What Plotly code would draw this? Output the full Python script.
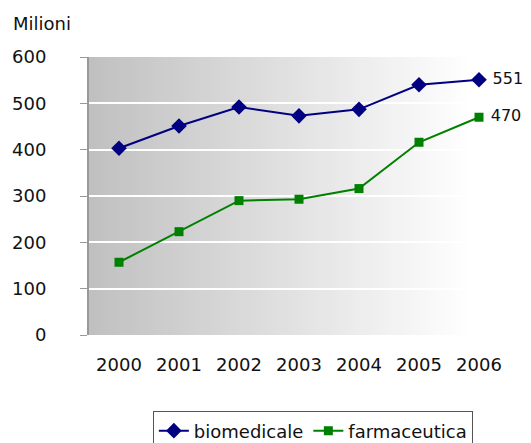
import plotly.graph_objects as go

years = ["2000", "2001", "2002", "2003", "2004", "2005", "2006"]
biomedicale = [403, 451, 492, 473, 487, 540, 551]
farmaceutica = [157, 223, 290, 293, 316, 416, 470]
y_ticks = [0, 100, 200, 300, 400, 500, 600]

FONT = "DejaVu Sans"

def last_label(vals):
    return [""] * (len(vals) - 1) + [" " + str(vals[-1])]

fig = go.Figure()
fig.add_trace(go.Scatter(
    x=years, y=biomedicale, name="biomedicale", mode="lines+markers+text",
    line=dict(color="#000080", width=2),
    marker=dict(symbol="diamond", size=12, color="#000080"),
    text=last_label(biomedicale), textposition="middle right",
    textfont=dict(family=FONT, size=16, color="#111111"),
    cliponaxis=False,
))
fig.add_trace(go.Scatter(
    x=years, y=farmaceutica, name="farmaceutica", mode="lines+markers+text",
    line=dict(color="#008000", width=2),
    marker=dict(symbol="square", size=9, color="#008000"),
    text=last_label(farmaceutica), textposition="middle right",
    textfont=dict(family=FONT, size=16, color="#111111"),
    cliponaxis=False,
))

# gradient background of plot area (grey -> white)
shapes = []
n = 80
fade_end = 0.91
for i in range(n):
    x0 = i / n
    x1 = (i + 1) / n
    t = min(((x0 + x1) / 2) / fade_end, 1.0)
    g = int(round(192 + (255 - 192) * t))
    shapes.append(dict(type="rect", xref="x domain", yref="y domain",
                       x0=x0, x1=x1 + 0.002, y0=0, y1=1, layer="below",
                       line=dict(width=0), fillcolor=f"rgb({g},{g},{g})"))

fig.update_layout(
    width=523, height=435,
    margin=dict(l=81, r=22, t=49, b=108, autoexpand=False),
    paper_bgcolor="white", plot_bgcolor="white",
    font=dict(family=FONT, size=18, color="#111111"),
    shapes=shapes,
    showlegend=True,
    legend=dict(orientation="h", x=0.533, xanchor="center", y=-0.275, yanchor="top",
                bordercolor="#555555", borderwidth=1, font=dict(size=18),
                itemwidth=30, tracegroupgap=0),
    annotations=[dict(text="Milioni", xref="paper", yref="paper",
                      x=-0.185, y=1.12, xanchor="left", yanchor="middle",
                      showarrow=False, font=dict(size=18))],
)
fig.update_xaxes(type="category", range=[-0.5, 6.5], showgrid=False, showline=False,
                 ticks="", ticklabelstandoff=17, tickfont=dict(size=18))
fig.update_yaxes(range=[0, 600], tickvals=y_ticks, showgrid=True, gridcolor="white",
                 gridwidth=2, zeroline=False, showline=True, linecolor="#999999",
                 linewidth=2, ticks="outside", ticklen=7, tickcolor="#999999",
                 ticklabelstandoff=30, tickfont=dict(size=18))

fig.write_html("out.html")
